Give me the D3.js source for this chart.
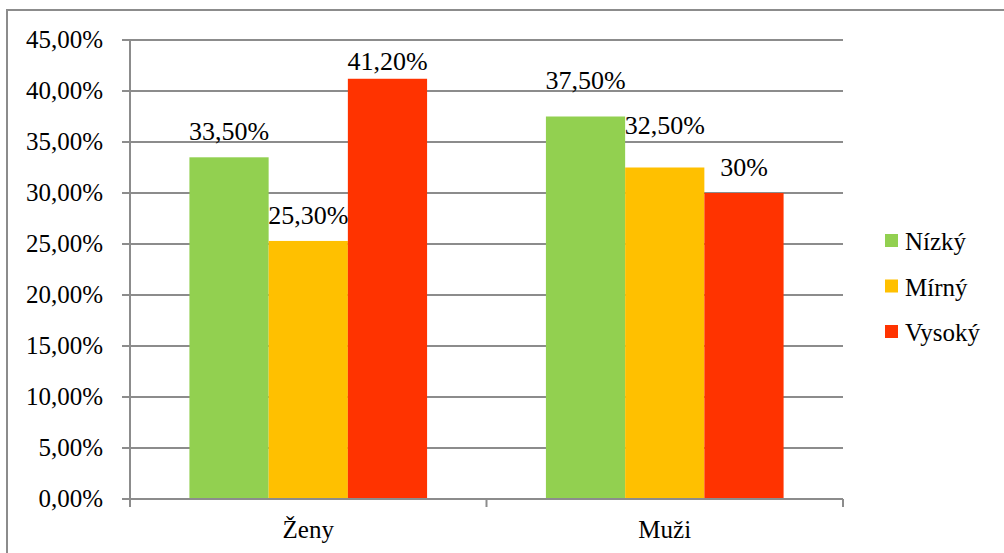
<!DOCTYPE html>
<html>
<head>
<meta charset="utf-8">
<script src="https://cdn.jsdelivr.net/npm/d3@7"></script>
<style>
  body { margin: 0; }
  svg text { font-family: "Times New Roman", "Tinos", "FreeSerif", "Liberation Serif", serif; }
</style>
</head>
<body>
<svg width="1004" height="553"></svg>
<script>
const categories = ["Ženy", "Muži"];
const seriesNames = ["Nízký", "Mírný", "Vysoký"];
const nizky = [33.5, 37.5];
const mirny = [25.3, 32.5];
const vysoky = [41.2, 30.0];
const valueLabels = [
  ["33,50%", "37,50%"],
  ["25,30%", "32,50%"],
  ["41,20%", "30%"],
];
const yTicks = [0, 5, 10, 15, 20, 25, 30, 35, 40, 45];

const colors = ["#92D050", "#FFC000", "#FF3300"];
const grey = "#8c8c8c";
const font_size = 25;

// label nudge above default position (manually moved labels in the source)
const labelNudge = [
  [0, 11],
  [0, 17],
  [-8, 0],
];

const plot_left = 130;
const plot_right = 843;
const plot_top = 40;
const plot_bottom = 499;

let svg = d3.select("svg");
const series = [nizky, mirny, vysoky];

// outer frame
svg.append("rect")
  .attr("x", 7).attr("y", 10)
  .attr("width", 1010).attr("height", 560)
  .attr("fill", "none")
  .attr("stroke", grey)
  .attr("stroke-width", 2);

const y = d3.scaleLinear().domain([0, 45]).range([plot_bottom, plot_top]);
const x0 = d3.scaleBand().domain(categories).range([plot_left, plot_right]);
// gap width 150% -> 0.75 bar-widths of space on each side of the group
const x1 = d3.scaleBand().domain(d3.range(3)).range([0, x0.bandwidth()]).paddingInner(0).paddingOuter(0.75);

// gridlines
svg.append("g")
  .selectAll("line")
  .data(yTicks)
  .join("line")
  .attr("x1", plot_left - 8)
  .attr("x2", plot_right)
  .attr("y1", d => y(d))
  .attr("y2", d => y(d))
  .attr("stroke", grey)
  .attr("stroke-width", 2);

// y axis line
svg.append("line")
  .attr("x1", plot_left).attr("x2", plot_left)
  .attr("y1", plot_top).attr("y2", plot_bottom)
  .attr("stroke", grey).attr("stroke-width", 2);

// y tick labels
svg.append("g")
  .selectAll("text")
  .data(yTicks)
  .join("text")
  .attr("x", 103)
  .attr("y", d => y(d) + 8)
  .attr("text-anchor", "end")
  .attr("font-size", font_size)
  .text(d => d3.format(".2f")(d).replace(".", ",") + "%");

// x tick marks at category boundaries
const boundaries = [plot_left, plot_left + x0.bandwidth(), plot_right];
svg.append("g")
  .selectAll("line")
  .data(boundaries)
  .join("line")
  .attr("x1", d => d).attr("x2", d => d)
  .attr("y1", plot_bottom).attr("y2", plot_bottom + 8)
  .attr("stroke", grey).attr("stroke-width", 2);

// bars
series.forEach((vals, si) => {
  svg.append("g")
    .selectAll("rect")
    .data(vals)
    .join("rect")
    .attr("x", (d, i) => x0(categories[i]) + x1(si))
    .attr("y", d => y(d))
    .attr("width", x1.bandwidth())
    .attr("height", d => plot_bottom - y(d))
    .attr("fill", colors[si]);
});

// x axis line (drawn over bars)
svg.append("line")
  .attr("x1", plot_left).attr("x2", plot_right)
  .attr("y1", plot_bottom).attr("y2", plot_bottom)
  .attr("stroke", grey).attr("stroke-width", 2);

// value labels
series.forEach((vals, si) => {
  svg.append("g")
    .selectAll("text")
    .data(vals)
    .join("text")
    .attr("x", (d, i) => x0(categories[i]) + x1(si) + x1.bandwidth() / 2)
    .attr("y", (d, i) => y(d) - 17 - labelNudge[si][i])
    .attr("text-anchor", "middle")
    .attr("font-size", font_size + 1)
    .text((d, i) => valueLabels[si][i]);
});

// category labels
svg.append("g")
  .selectAll("text")
  .data(categories)
  .join("text")
  .attr("x", d => x0(d) + x0.bandwidth() / 2)
  .attr("y", 538)
  .attr("text-anchor", "middle")
  .attr("font-size", font_size)
  .text(d => d);

// legend
const legend = svg.append("g")
  .selectAll("g")
  .data(seriesNames)
  .join("g")
  .attr("transform", (d, i) => `translate(885, ${241 + i * 45.5})`);

legend.append("rect")
  .attr("x", 0).attr("y", -7)
  .attr("width", 13).attr("height", 13)
  .attr("fill", (d, i) => colors[i]);

legend.append("text")
  .attr("x", 20)
  .attr("y", 9)
  .attr("font-size", font_size)
  .text(d => d);
</script>
</body>
</html>
